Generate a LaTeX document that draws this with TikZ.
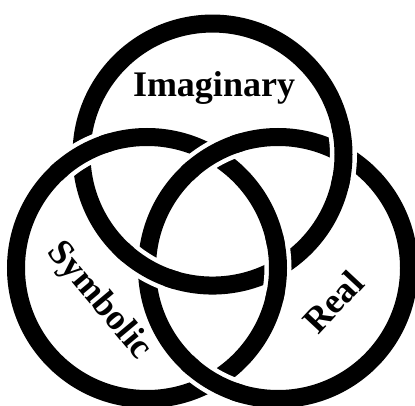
\documentclass[tikz,border=0pt]{standalone}
\usepackage{fontspec}
\setmainfont{Liberation Serif}
\begin{document}
\begin{tikzpicture}[x=1pt, y=1pt, every node/.style={font=\fontsize{36}{36}\selectfont\bfseries}]
  \tikzstyle{ring}=[draw=black,line width=18pt]
  \tikzstyle{gap}=[draw=white,line width=27pt]
  \useasboundingbox (0,0) rectangle (415,405);
  \coordinate (L) at (147,137);
  \coordinate (R) at (278,137);
  \coordinate (T) at (212.5,250.45);
  % the three rings
  \draw[ring] (T) circle[radius=131pt];
  \draw[ring] (L) circle[radius=131pt];
  \draw[ring] (R) circle[radius=131pt];
  % crossings: left over top, top over right, right over left
  \draw[gap] (L) ++(110:131pt) arc[start angle=110, end angle=130, radius=131pt];
  \draw[ring] (L) ++(106:131pt) arc[start angle=106, end angle=134, radius=131pt];
  \draw[gap] (L) ++(-10:131pt) arc[start angle=-10, end angle=10, radius=131pt];
  \draw[ring] (L) ++(-14:131pt) arc[start angle=-14, end angle=14, radius=131pt];
  \draw[gap] (T) ++(-10:131pt) arc[start angle=-10, end angle=10, radius=131pt];
  \draw[ring] (T) ++(-14:131pt) arc[start angle=-14, end angle=14, radius=131pt];
  \draw[gap] (T) ++(230:131pt) arc[start angle=230, end angle=250, radius=131pt];
  \draw[ring] (T) ++(226:131pt) arc[start angle=226, end angle=254, radius=131pt];
  \draw[gap] (R) ++(110:131pt) arc[start angle=110, end angle=130, radius=131pt];
  \draw[ring] (R) ++(106:131pt) arc[start angle=106, end angle=134, radius=131pt];
  \draw[gap] (R) ++(230:131pt) arc[start angle=230, end angle=250, radius=131pt];
  \draw[ring] (R) ++(226:131pt) arc[start angle=226, end angle=254, radius=131pt];
  % labels
  \node[anchor=base] (imag) at (214,308) {Imaginary};
  \node[rotate=-50,inner sep=0pt] (symb) at (99,104) {Symbolic};
  \node[rotate=47,inner sep=0pt] (real) at (333,103) {Real};
\end{tikzpicture}
\end{document}
